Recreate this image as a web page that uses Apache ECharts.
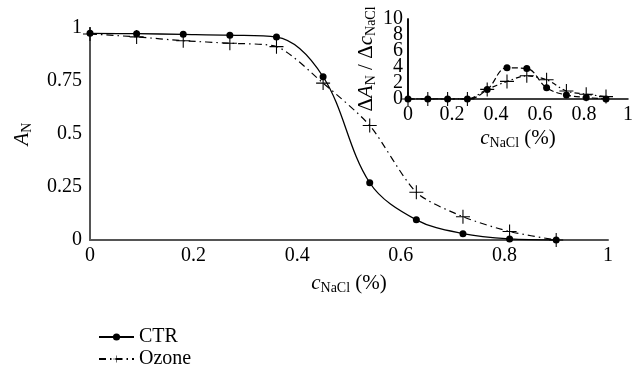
<!DOCTYPE html>
<html><head><meta charset="utf-8">
<script src="https://cdn.jsdelivr.net/npm/echarts@6/dist/echarts.min.js"></script>
<style>html,body{margin:0;padding:0;background:#fff}#c{width:640px;height:368px}</style>
</head><body><div id="c"></div>
<script>
const xValues = [0, 0.09, 0.18, 0.27, 0.36, 0.45, 0.54, 0.63, 0.72, 0.81, 0.9];
const ctrMain = [0.975, 0.973, 0.97, 0.966, 0.957, 0.77, 0.27, 0.095, 0.03, 0.005, 0];
const ozoneMain = [0.972, 0.958, 0.94, 0.928, 0.912, 0.74, 0.54, 0.225, 0.11, 0.04, 0];
const ctrInset = [0, 0, 0, 0, 1.2, 3.9, 3.8, 1.4, 0.5, 0.2, 0];
const ozoneInset = [0, 0, 0, 0, 1.2, 2.2, 2.9, 2.4, 1.0, 0.6, 0.3];
const mainXTicks = [0, 0.2, 0.4, 0.6, 0.8, 1];
const mainYTicks = [0, 0.25, 0.5, 0.75, 1];
const insetYTicks = [0, 2, 4, 6, 8, 10];
const insetYTicksA = [0, 4, 8];
const insetYTicksB = [2, 6, 10];

const F = 'Liberation Serif';
const plus = 'path://M6,0H7V6H13V7H7V13H6V7H0V6H6Z';
const pairs = (ys) => xValues.map((x, i) => [x, ys[i]]);
const rich = {
  n: {fontFamily: F, fontSize: 21, lineHeight: 22, verticalAlign: 'top', color: '#000'},
  i: {fontFamily: F, fontSize: 21, lineHeight: 22, verticalAlign: 'top', fontStyle: 'italic', color: '#000'},
  s: {fontFamily: F, fontSize: 14, lineHeight: 15, padding: [10, 0, 0, 0], verticalAlign: 'bottom', color: '#000'}
};
const labelStyle = {fontFamily: F, fontSize: 20, color: '#000'};
const insetY = (shown, minL, maxL, extra) => Object.assign({
  gridIndex: 1, type: 'value', min: 0, max: 10, interval: 2, position: 'left', offset: 0,
  axisLine: {show: true, onZero: false, lineStyle: {color: '#000', width: 1.5}}, axisTick: {show: false}, splitLine: {show: false},
  axisLabel: Object.assign({margin: 5, showMinLabel: minL, showMaxLabel: maxL,
    formatter: v => shown.indexOf(v) >= 0 ? String(v) : ''}, labelStyle)
}, extra);

const chart = echarts.init(document.getElementById('c'), null, {renderer: 'canvas'});
chart.setOption({
  animation: false,
  backgroundColor: '#fff',
  grid: [
    {left: 90, right: 32, top: 28, bottom: 128, outerBoundsMode: 'none'},
    {left: 408, right: 12, top: 19, bottom: 269, outerBoundsMode: 'none'}
  ],
  xAxis: [
    {gridIndex: 0, type: 'value', min: 0, max: 1, interval: 0.2,
     axisLine: {lineStyle: {color: '#555', width: 2}}, axisTick: {show: false}, splitLine: {show: false},
     axisLabel: Object.assign({margin: 6, formatter: v => String(v)}, labelStyle),
     name: '{i|c}{s|NaCl}{n| (%)}', nameLocation: 'middle', nameGap: 29,
     nameTextStyle: {rich: rich}},
    {gridIndex: 1, type: 'value', min: 0, max: 1, interval: 0.2,
     axisLine: {lineStyle: {color: '#000', width: 1.5}}, axisTick: {show: false}, splitLine: {show: false},
     axisLabel: Object.assign({margin: 6, formatter: v => String(v)}, labelStyle),
     name: '{i|c}{s|NaCl}{n| (%)}', nameLocation: 'middle', nameGap: 29,
     nameTextStyle: {rich: rich}}
  ],
  yAxis: [
    {gridIndex: 0, type: 'value', min: 0, max: 1, interval: 0.25,
     axisLine: {show: true, lineStyle: {color: '#555', width: 2}}, axisTick: {show: false}, splitLine: {show: false},
     axisLabel: Object.assign({margin: 8, showMinLabel: true, showMaxLabel: true}, labelStyle),
     name: '{i|A}{s|N}', nameLocation: 'middle', nameGap: 56, nameRotate: 90,
     nameTextStyle: {rich: rich}},
    insetY(insetYTicksA, true, false, {
     name: '{n|Δ}{i|A}{s|N}{n| / Δ}{i|c}{s|NaCl}', nameLocation: 'middle', nameGap: 30, nameRotate: 90,
     nameTextStyle: {rich: rich}}),
    insetY(insetYTicksB, false, true, {})
  ],
  legend: [
    {orient: 'vertical', left: 93, top: 322, itemWidth: 35, itemHeight: 9,
     data: ['CTR'], textStyle: {fontFamily: F, fontSize: 20, color: '#000'}},
    {orient: 'vertical', left: 93, top: 344, itemWidth: 35, itemHeight: 9,
     data: ['Ozone'], textStyle: {fontFamily: F, fontSize: 20, color: '#000'}}
  ],
  series: [
    {name: 'CTR', type: 'line', xAxisIndex: 0, yAxisIndex: 0, data: pairs(ctrMain), smooth: 0.35,
     symbol: 'circle', symbolSize: 7, itemStyle: {color: '#000'}, lineStyle: {color: '#000', width: 1.3}},
    {name: 'Ozone', type: 'line', xAxisIndex: 0, yAxisIndex: 0, data: pairs(ozoneMain), smooth: 0.25,
     symbol: plus, symbolSize: 14, itemStyle: {color: '#000'}, lineStyle: {color: '#000', width: 1.2, type: [7, 4, 1.5, 4]}},
    {name: 'CTR', type: 'line', xAxisIndex: 1, yAxisIndex: 1, data: pairs(ctrInset), smooth: 0.4,
     symbol: 'circle', symbolSize: 7, itemStyle: {color: '#000'}, lineStyle: {color: '#000', width: 1.2, type: [6, 3]}},
    {name: 'Ozone', type: 'line', xAxisIndex: 1, yAxisIndex: 1, data: pairs(ozoneInset), smooth: 0.3,
     symbol: plus, symbolSize: 14, itemStyle: {color: '#000'}, lineStyle: {color: '#000', width: 1.2, type: [5, 3, 1.5, 3]}}
  ]
});
</script></body></html>
